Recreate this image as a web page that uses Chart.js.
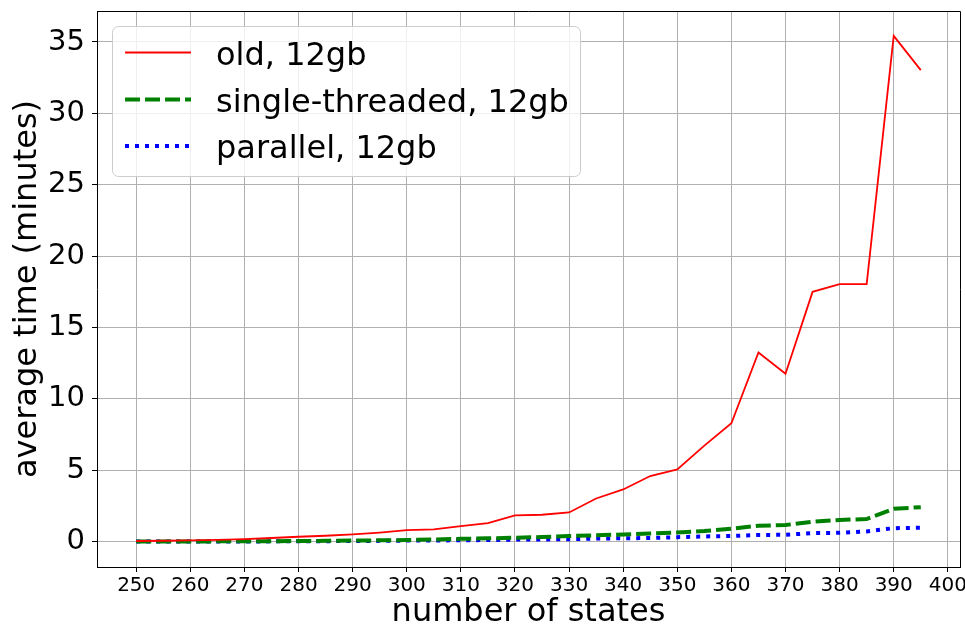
<!DOCTYPE html>
<html>
<head>
<meta charset="utf-8">
<script src="https://cdn.jsdelivr.net/npm/chart.js@4/dist/chart.umd.min.js"></script>
<style>
  html, body { margin: 0; padding: 0; background: #fff; }
  #wrap { width: 965px; height: 630px; }
</style>
</head>
<body>
<div id="wrap"><canvas id="myChart" width="965" height="630"></canvas></div>
<script>
// number of states (x)
const states = [250, 255, 260, 265, 270, 275, 280, 285, 290, 295, 300, 305, 310, 315, 320,
                325, 330, 335, 340, 345, 350, 355, 360, 365, 370, 375, 380, 385, 390, 395];

// average time in minutes
const oldTimes = [0.05, 0.07, 0.1, 0.13, 0.18, 0.26, 0.35, 0.42, 0.51, 0.64, 0.81, 0.86, 1.09, 1.3, 1.84,
                  1.89, 2.05, 3.03, 3.66, 4.6, 5.07, 6.73, 8.3, 13.25, 11.77, 17.5, 18.04, 18.04, 35.43, 33.03];
const singleTimes = [0.01, 0.015, 0.02, 0.025, 0.03, 0.04, 0.05, 0.06, 0.08, 0.1, 0.12, 0.16, 0.2, 0.24, 0.28,
                     0.33, 0.4, 0.45, 0.51, 0.58, 0.65, 0.75, 0.91, 1.12, 1.17, 1.4, 1.52, 1.59, 2.31, 2.42];
const parallelTimes = [0.01, 0.01, 0.015, 0.02, 0.02, 0.025, 0.03, 0.04, 0.05, 0.06, 0.08, 0.09, 0.1, 0.12, 0.15,
                       0.16, 0.18, 0.22, 0.24, 0.26, 0.32, 0.37, 0.4, 0.47, 0.49, 0.6, 0.63, 0.72, 0.95, 0.98];

// tick labels
const xTicks = [250, 260, 270, 280, 290, 300, 310, 320, 330, 340, 350, 360, 370, 380, 390, 400];
const yTicks = [0, 5, 10, 15, 20, 25, 30, 35];

const FONT = "'DejaVu Sans', sans-serif";

function toPoints(ys) {
    return states.map((s, i) => ({ x: s, y: ys[i] }));
}

// legend inside the plot, like the matplotlib one (upper left)
const insideLegend = {
    id: 'insideLegend',
    afterDatasetsDraw(chart) {
        const ctx = chart.ctx;
        const box = { x: 112.5, y: 26.5, w: 468, h: 150, r: 6 };
        ctx.save();
        ctx.beginPath();
        ctx.roundRect(box.x, box.y, box.w, box.h, box.r);
        ctx.fillStyle = 'rgba(255,255,255,0.8)';
        ctx.fill();
        ctx.strokeStyle = '#cccccc';
        ctx.lineWidth = 1;
        ctx.stroke();

        const rowY = [52.5, 99.5, 146];
        chart.data.datasets.forEach((ds, i) => {
            const y = rowY[i];
            ctx.beginPath();
            ctx.setLineDash(ds.borderDash || []);
            ctx.lineWidth = ds.borderWidth;
            ctx.strokeStyle = ds.borderColor;
            ctx.lineCap = 'butt';
            ctx.moveTo(125, y);
            ctx.lineTo(191, y);
            ctx.stroke();
            ctx.setLineDash([]);
            ctx.fillStyle = '#000';
            ctx.font = '32px ' + FONT;
            ctx.textBaseline = 'alphabetic';
            ctx.textAlign = 'left';
            ctx.fillText(ds.label, 216, y + 12);
        });
        ctx.restore();
    },
    afterDraw(chart) {
        // top and right spines
        const a = chart.chartArea;
        const ctx = chart.ctx;
        ctx.save();
        ctx.strokeStyle = '#000';
        ctx.lineWidth = 1;
        ctx.beginPath();
        ctx.moveTo(a.left, a.top + 0.5);
        ctx.lineTo(a.right + 0.5, a.top + 0.5);
        ctx.lineTo(a.right + 0.5, a.bottom);
        ctx.stroke();
        ctx.restore();
    }
};

const ctx = document.getElementById('myChart').getContext('2d');
const myChart = new Chart(ctx, {
    type: 'line',
    data: {
        datasets: [{
            label: 'old, 12gb',
            data: toPoints(oldTimes),
            borderColor: '#ff0000',
            borderWidth: 1.8
        }, {
            label: 'single-threaded, 12gb',
            data: toPoints(singleTimes),
            borderColor: '#008000',
            borderWidth: 4,
            borderDash: [15, 5]
        }, {
            label: 'parallel, 12gb',
            data: toPoints(parallelTimes),
            borderColor: '#0000ff',
            borderWidth: 4,
            borderDash: [4, 6]
        }]
    },
    options: {
        responsive: false,
        animation: false,
        layout: { padding: { top: 11, right: 5, left: 0, bottom: 0 } },
        elements: {
            point: { radius: 0 },
            line: { tension: 0 }
        },
        plugins: {
            legend: { display: false },
            tooltip: { enabled: false }
        },
        scales: {
            x: {
                type: 'linear',
                min: 242.75,
                max: 402.25,
                afterBuildTicks: scale => { scale.ticks = xTicks.map(v => ({ value: v })); },
                afterFit: scale => {
                    scale.height = 63;
                    scale.paddingLeft = 0;
                    scale.paddingRight = 0;
                },
                ticks: {
                    color: '#000',
                    font: { family: FONT, size: 20 },
                    padding: 2,
                    maxRotation: 0,
                    autoSkip: false
                },
                grid: {
                    color: '#b0b0b0',
                    lineWidth: 1,
                    tickColor: '#000',
                    tickLength: 5
                },
                border: { color: '#000', width: 1 },
                title: {
                    display: true,
                    text: 'number of states',
                    color: '#000',
                    font: { family: FONT, size: 32 },
                    padding: { top: 0, bottom: -2 }
                }
            },
            y: {
                type: 'linear',
                min: -1.77,
                max: 37.17,
                afterBuildTicks: scale => { scale.ticks = yTicks.map(v => ({ value: v })); },
                afterFit: scale => {
                    scale.width = 97;
                    scale.paddingTop = 0;
                    scale.paddingBottom = 0;
                },
                ticks: {
                    color: '#000',
                    font: { family: FONT, size: 29 },
                    padding: 7,
                    autoSkip: false
                },
                grid: {
                    color: '#b0b0b0',
                    lineWidth: 1,
                    tickColor: '#000',
                    tickLength: 5
                },
                border: { color: '#000', width: 1 },
                title: {
                    display: true,
                    text: 'average time (minutes)',
                    color: '#000',
                    font: { family: FONT, size: 32 },
                    padding: { top: 8, bottom: 0 }
                }
            }
        }
    },
    plugins: [insideLegend]
});
</script>
</body>
</html>
